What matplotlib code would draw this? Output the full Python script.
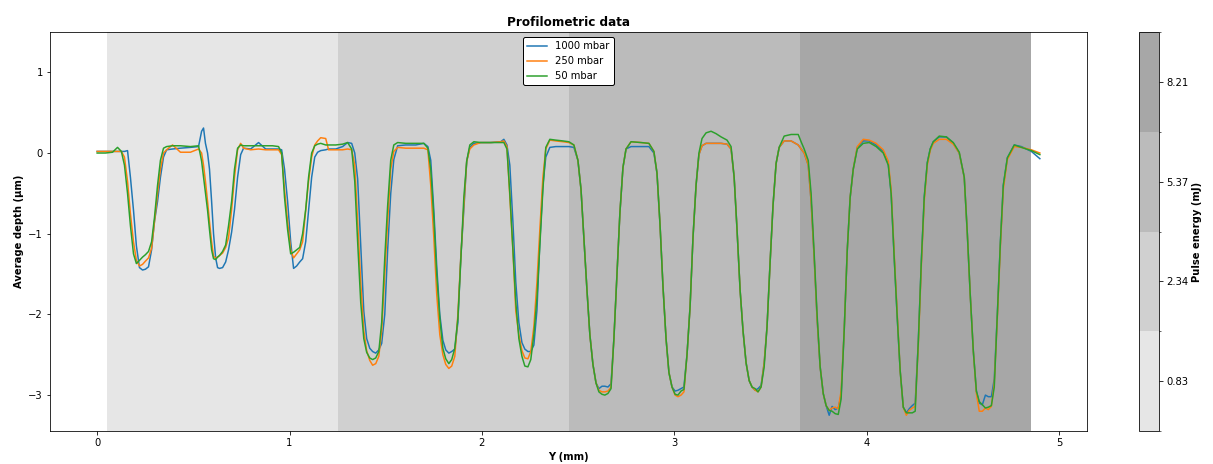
import matplotlib
matplotlib.use("Agg")
import matplotlib.pyplot as plt
from matplotlib.colors import ListedColormap, BoundaryNorm
from matplotlib.cm import ScalarMappable

# ---------------- data ----------------
y_mm = [
    # start
    0.000, 0.043, 0.080, 0.106, 0.126, 0.142,
    # dip 1
    0.158, 0.173, 0.189, 0.204, 0.220, 0.236, 0.251, 0.267, 0.283, 0.298, 0.314, 0.329, 0.345, 0.361,
    # plateau
    0.392, 0.433, 0.485, 0.527, 0.543, 0.553, 0.563, 0.574,
    # dip 2
    0.584, 0.595, 0.605, 0.616, 0.626, 0.636, 0.652, 0.668, 0.683, 0.699, 0.714, 0.730, 0.746, 0.761,
    # plateau
    0.798, 0.839, 0.876, 0.912, 0.943, 0.959,
    # dip 3
    0.974, 0.990, 1.006, 1.021, 1.037, 1.053, 1.068, 1.084, 1.099, 1.115, 1.131, 1.146,
    # plateau
    1.162, 1.188, 1.203, 1.240, 1.276, 1.302, 1.323,
    # dip 4
    1.339, 1.354, 1.370, 1.386, 1.401, 1.417, 1.432, 1.448, 1.464, 1.479, 1.495, 1.510, 1.526, 1.542, 1.562,
    # plateau
    1.604, 1.656, 1.698, 1.719,
    # dip 5
    1.734, 1.750, 1.765, 1.781, 1.797, 1.812, 1.828, 1.843, 1.859, 1.875, 1.890, 1.906, 1.921, 1.937, 1.958,
    # plateau
    1.994, 2.046, 2.098, 2.114, 2.130,
    # dip 6
    2.145, 2.161, 2.176, 2.192, 2.208, 2.223, 2.239, 2.254, 2.270, 2.286, 2.301, 2.317, 2.332, 2.353,
    # plateau
    2.384, 2.421, 2.452, 2.478,
    # dip 7
    2.499, 2.515, 2.530, 2.546, 2.561, 2.577, 2.593, 2.608, 2.624, 2.639, 2.655, 2.671, 2.686, 2.702,
    2.717, 2.733, 2.749, 2.775,
    # plateau
    2.827, 2.868, 2.894,
    # dip 8
    2.910, 2.926, 2.941, 2.957, 2.972, 2.988, 3.004, 3.019, 3.035, 3.050, 3.066, 3.082, 3.097, 3.113,
    3.128, 3.144, 3.165,
    # plateau
    3.191, 3.217, 3.243, 3.274, 3.295,
    # dip 9
    3.311, 3.326, 3.342, 3.357, 3.373, 3.389, 3.404, 3.420, 3.435, 3.451, 3.467, 3.482, 3.498, 3.513,
    3.529, 3.545, 3.571,
    # plateau
    3.607, 3.644, 3.659, 3.675, 3.696,
    # dip 10
    3.711, 3.727, 3.742, 3.758, 3.774, 3.789, 3.805, 3.820, 3.836, 3.852, 3.867, 3.883, 3.899, 3.914,
    3.930, 3.951, 3.982,
    # plateau
    4.013, 4.049, 4.086, 4.112,
    # dip 11
    4.127, 4.143, 4.159, 4.174, 4.190, 4.206, 4.221, 4.237, 4.252, 4.268, 4.284, 4.299, 4.315, 4.330,
    4.346, 4.377,
    # plateau
    4.414, 4.450, 4.481, 4.507,
    # dip 12
    4.523, 4.538, 4.554, 4.570, 4.585, 4.601, 4.617, 4.632, 4.648, 4.663, 4.679, 4.695, 4.710, 4.731, 4.767,
    # end
    4.804, 4.856, 4.900,
]

depth_1000 = [
    0.02, 0.02, 0.02, 0.02, 0.02, 0.02,
    0.03, -0.30, -0.71, -1.15, -1.42, -1.45, -1.44, -1.41, -1.20, -0.85, -0.60, -0.30, -0.05, 0.04,
    0.05, 0.06, 0.07, 0.08, 0.27, 0.31, 0.12, 0.00,
    -0.20, -0.60, -1.00, -1.30, -1.42, -1.43, -1.42, -1.35, -1.20, -0.98, -0.70, -0.30, -0.02, 0.06,
    0.05, 0.13, 0.05, 0.05, 0.05, 0.04,
    -0.20, -0.60, -1.10, -1.43, -1.40, -1.35, -1.31, -1.10, -0.71, -0.30, -0.05, 0.01,
    0.03, 0.04, 0.05, 0.05, 0.08, 0.13, 0.12,
    0.00, -0.32, -1.13, -1.96, -2.30, -2.42, -2.46, -2.48, -2.44, -2.36, -2.00, -1.20, -0.50, -0.08, 0.09,
    0.10, 0.10, 0.12, 0.08,
    -0.09, -0.71, -1.40, -2.00, -2.32, -2.44, -2.48, -2.46, -2.43, -2.10, -1.30, -0.70, -0.10, 0.07, 0.12,
    0.13, 0.13, 0.14, 0.17, 0.10,
    -0.15, -0.85, -1.60, -2.10, -2.35, -2.43, -2.46, -2.46, -2.38, -1.95, -1.10, -0.40, -0.05, 0.07,
    0.08, 0.08, 0.08, 0.07,
    -0.09, -0.45, -1.05, -1.70, -2.25, -2.62, -2.85, -2.92, -2.89, -2.89, -2.90, -2.86, -2.30, -1.50,
    -0.75, -0.18, 0.05, 0.08,
    0.08, 0.08, 0.00,
    -0.25, -0.90, -1.65, -2.30, -2.72, -2.90, -2.95, -2.94, -2.92, -2.90, -2.50, -1.90, -1.05, -0.40,
    -0.02, 0.09, 0.12,
    0.12, 0.12, 0.12, 0.11, 0.05,
    -0.30, -0.95, -1.70, -2.20, -2.60, -2.82, -2.90, -2.94, -2.92, -2.88, -2.60, -2.15, -1.35, -0.65,
    -0.13, 0.07, 0.15,
    0.15, 0.10, 0.05, 0.00, -0.15,
    -0.60, -1.30, -2.05, -2.65, -2.98, -3.13, -3.25, -3.14, -3.18, -3.16, -3.00, -2.20, -1.20, -0.55,
    -0.20, 0.07, 0.15,
    0.15, 0.10, 0.02, -0.13,
    -0.50, -1.30, -2.05, -2.70, -3.15, -3.22, -3.17, -3.13, -3.10, -2.35, -1.34, -0.55, -0.12, 0.05,
    0.14, 0.20,
    0.20, 0.12, 0.00, -0.30,
    -1.00, -1.75, -2.45, -2.95, -3.10, -3.12, -3.00, -3.02, -3.02, -2.80, -2.00, -1.10, -0.40, -0.06, 0.10,
    0.08, 0.02, -0.07,
]

depth_250 = [
    0.02, 0.02, 0.02, 0.02, 0.02, -0.05,
    -0.35, -0.75, -1.10, -1.33, -1.40, -1.38, -1.34, -1.30, -1.18, -0.85, -0.50, -0.20, 0.00, 0.04,
    0.10, 0.01, 0.01, 0.05, 0.00, -0.15, -0.35, -0.60,
    -0.85, -1.10, -1.28, -1.30, -1.29, -1.27, -1.24, -1.17, -1.05, -0.70, -0.30, 0.04, 0.12, 0.06,
    0.04, 0.05, 0.04, 0.04, 0.04, -0.02,
    -0.45, -0.85, -1.20, -1.30, -1.25, -1.20, -1.10, -0.71, -0.35, -0.05, 0.10, 0.15,
    0.19, 0.18, 0.04, 0.04, 0.04, 0.05, 0.04,
    -0.15, -0.85, -1.60, -2.20, -2.45, -2.57, -2.63, -2.61, -2.52, -2.20, -1.50, -0.85, -0.20, 0.02, 0.07,
    0.06, 0.06, 0.06, 0.04,
    -0.40, -1.05, -1.75, -2.25, -2.50, -2.62, -2.67, -2.64, -2.52, -2.00, -1.30, -0.65, -0.10, 0.05, 0.10,
    0.13, 0.13, 0.14, 0.15, 0.08,
    -0.55, -1.20, -1.96, -2.25, -2.45, -2.54, -2.55, -2.46, -2.15, -1.60, -0.95, -0.30, 0.05, 0.16,
    0.15, 0.14, 0.13, 0.10,
    -0.09, -0.45, -1.05, -1.70, -2.25, -2.62, -2.85, -2.94, -2.96, -2.96, -2.95, -2.90, -2.30, -1.50,
    -0.75, -0.18, 0.05, 0.14,
    0.13, 0.12, 0.02,
    -0.25, -0.90, -1.65, -2.30, -2.72, -2.90, -3.00, -3.02, -3.00, -2.96, -2.50, -1.90, -1.05, -0.40,
    -0.02, 0.09, 0.12,
    0.12, 0.12, 0.12, 0.11, 0.05,
    -0.30, -0.95, -1.70, -2.20, -2.60, -2.82, -2.90, -2.94, -2.96, -2.90, -2.60, -2.15, -1.35, -0.65,
    -0.13, 0.07, 0.15,
    0.15, 0.10, 0.05, 0.00, -0.15,
    -0.60, -1.30, -2.05, -2.65, -2.98, -3.13, -3.19, -3.16, -3.15, -3.17, -2.95, -2.20, -1.20, -0.55,
    -0.20, 0.08, 0.17,
    0.16, 0.12, 0.04, -0.10,
    -0.45, -1.25, -2.00, -2.70, -3.15, -3.25, -3.19, -3.16, -3.14, -2.40, -1.40, -0.60, -0.15, 0.03,
    0.12, 0.17,
    0.17, 0.11, 0.00, -0.30,
    -1.00, -1.75, -2.45, -2.98, -3.20, -3.20, -3.16, -3.18, -3.14, -2.85, -2.05, -1.15, -0.45, -0.08, 0.08,
    0.07, 0.04, 0.00,
]

depth_50 = [
    0.00, 0.00, 0.01, 0.07, 0.02, -0.15,
    -0.50, -0.90, -1.25, -1.37, -1.33, -1.29, -1.26, -1.22, -1.10, -0.80, -0.40, -0.09, 0.06, 0.08,
    0.09, 0.09, 0.08, 0.09, -0.10, -0.30, -0.50, -0.71,
    -0.95, -1.20, -1.31, -1.32, -1.29, -1.27, -1.22, -1.14, -0.90, -0.60, -0.20, 0.06, 0.10, 0.09,
    0.09, 0.09, 0.09, 0.09, 0.08, 0.00,
    -0.55, -0.95, -1.25, -1.23, -1.20, -1.17, -1.00, -0.70, -0.30, 0.00, 0.09, 0.11,
    0.12, 0.10, 0.10, 0.10, 0.11, 0.13, 0.05,
    -0.35, -1.10, -1.85, -2.30, -2.47, -2.54, -2.56, -2.54, -2.46, -2.10, -1.30, -0.65, -0.09, 0.10, 0.13,
    0.12, 0.12, 0.12, 0.06,
    -0.20, -0.80, -1.50, -2.05, -2.42, -2.55, -2.61, -2.56, -2.42, -2.05, -1.34, -0.55, -0.10, 0.10, 0.14,
    0.13, 0.13, 0.13, 0.13, 0.05,
    -0.50, -1.20, -1.85, -2.30, -2.52, -2.64, -2.65, -2.56, -2.25, -1.80, -1.15, -0.45, 0.07, 0.17,
    0.16, 0.15, 0.14, 0.10,
    -0.09, -0.45, -1.05, -1.70, -2.25, -2.62, -2.85, -2.96, -2.99, -3.00, -2.98, -2.92, -2.30, -1.50,
    -0.75, -0.18, 0.05, 0.14,
    0.13, 0.12, 0.02,
    -0.25, -0.90, -1.65, -2.30, -2.72, -2.90, -2.99, -3.00, -2.95, -2.93, -2.50, -1.90, -1.05, -0.40,
    0.00, 0.18, 0.25,
    0.27, 0.24, 0.20, 0.16, 0.08,
    -0.30, -0.95, -1.70, -2.20, -2.60, -2.82, -2.90, -2.92, -2.96, -2.90, -2.65, -2.15, -1.35, -0.65,
    -0.13, 0.07, 0.21,
    0.23, 0.23, 0.14, 0.05, -0.09,
    -0.50, -1.25, -2.00, -2.65, -2.98, -3.13, -3.19, -3.20, -3.23, -3.24, -3.05, -2.20, -1.20, -0.55,
    -0.20, 0.05, 0.12,
    0.13, 0.08, 0.00, -0.15,
    -0.50, -1.30, -2.05, -2.70, -3.15, -3.22, -3.22, -3.22, -3.20, -2.35, -1.34, -0.55, -0.12, 0.05,
    0.14, 0.21,
    0.20, 0.13, 0.01, -0.30,
    -1.00, -1.75, -2.45, -2.95, -3.08, -3.12, -3.16, -3.15, -3.13, -2.90, -2.00, -1.10, -0.40, -0.06, 0.10,
    0.07, 0.03, -0.02,
]

series_labels = ["1000 mbar", "250 mbar", "50 mbar"]
series_colors = ["#1f77b4", "#ff7f0e", "#2ca02c"]

pulse_energy = [0.83, 2.34, 5.37, 8.21]          # mJ, one per region
region_start = [0.052, 1.252, 2.452, 3.652]       # mm
region_end = [1.252, 2.452, 3.652, 4.852]         # mm
region_colors = ["#e6e6e6", "#d0d0d0", "#bbbbbb", "#a7a7a7"]

# ---------------- figure ----------------
W, H = 1213, 464
DPI = 72
fig = plt.figure(figsize=(W / DPI, H / DPI), dpi=DPI)
ax = fig.add_axes([50 / W, 1 - 431 / H, 1037 / W, 399 / H])
cax = fig.add_axes([1139 / W, 1 - 431 / H, 20 / W, 399 / H])

for x0, x1, c in zip(region_start, region_end, region_colors):
    ax.axvspan(x0, x1, color=c, lw=0, zorder=0)

for ys, lab, col in zip([depth_1000, depth_250, depth_50], series_labels, series_colors):
    assert len(ys) == len(y_mm), (lab, len(ys), len(y_mm))
    ax.plot(y_mm, ys, color=col, lw=1.5, label=lab, zorder=2)

ax.set_xlim(-0.245, 5.145)
ax.set_ylim(-3.445, 1.5)
ax.set_xticks([0, 1, 2, 3, 4, 5])
ax.set_yticks([-3, -2, -1, 0, 1])
ax.set_title("Profilometric data", fontweight="bold", fontsize=12)
ax.set_xlabel("Y (mm)", fontweight="bold", fontsize=10)
ax.set_ylabel("Average depth (μm)", fontweight="bold", fontsize=10)

leg = ax.legend(loc="upper center", fontsize=10, frameon=True, framealpha=1,
                edgecolor="black", fancybox=True)
leg.get_frame().set_linewidth(1.0)

cmap = ListedColormap(region_colors)
norm = BoundaryNorm([0, 1, 2, 3, 4], cmap.N)
sm = ScalarMappable(norm=norm, cmap=cmap)
cb = fig.colorbar(sm, cax=cax, ticks=[0.5, 1.5, 2.5, 3.5])
cb.ax.set_yticklabels([f"{e:.2f}" for e in pulse_energy])
cb.set_label("Pulse energy (mJ)", fontweight="bold", fontsize=10)

fig.savefig("out.png", dpi=DPI)
